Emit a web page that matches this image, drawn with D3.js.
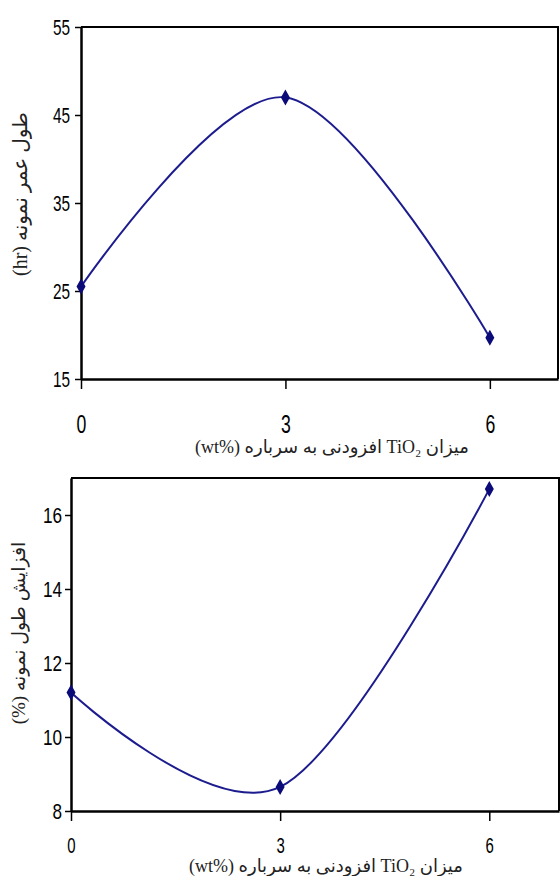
<!DOCTYPE html>
<html>
<head>
<meta charset="utf-8">
<script src="https://cdn.jsdelivr.net/npm/d3@7"></script>
<style>
  body { margin: 0; background: #fff; }
  svg { display: block; }
  .tick text { font-family: "Liberation Sans", Arial, sans-serif; fill: #000; }
  .title { font-family: "Liberation Serif", "DejaVu Sans", serif; fill: #222; }
</style>
</head>
<body>
<div id="chart"></div>
<script>
// x values (wt% TiO2)
const xValues = [0, 3, 6];
// top chart: sample life (hr)
const lifeHours = [25.5, 47, 19.7];
// bottom chart: length increase (%)
const lengthIncrease = [11.2, 8.65, 16.7];

const xTicks = [0, 3, 6];
const lifeTicks = [15, 25, 35, 45, 55];
const incTicks = [8, 10, 12, 14, 16];

// LRM marks keep "(wt%)" in the right order inside the RTL title
const xTitle = "میزان TiO₂ افزودنی به سرباره \u200E(wt%)\u200E";
const lifeTitle = "طول عمر نمونه \u200E(hr)\u200E";
const incTitle = "افزایش طول نمونه \u200E(%)\u200E";

const width = 560, height = 876;
const lineColor = "#1c1c8e";
const markColor = "#0a0a78";

const svg = d3.select("#chart")
  .append("svg")
  .attr("width", width)
  .attr("height", height);

function drawPanel(opt) {
  const g = svg.append("g");
  const xScale = d3.scaleLinear().domain([0, 7]).range([opt.left, opt.right]);
  const yScale = d3.scaleLinear().domain(opt.yDomain).range([opt.bottom, opt.top]);

  // frame (top and right)
  g.append("path")
    .attr("d", `M${opt.left},${opt.top}H${opt.right}V${opt.bottom}`)
    .attr("fill", "none")
    .attr("stroke", "#000")
    .attr("stroke-width", 2);

  // y axis
  const yAxis = g.append("g")
    .attr("transform", `translate(${opt.left},0)`)
    .call(d3.axisLeft(yScale).tickValues(opt.yTicks).tickFormat(d3.format("d")).tickSize(6).tickSizeOuter(0));
  yAxis.select(".domain").attr("stroke-width", 2.5);
  yAxis.selectAll(".tick line").attr("stroke-width", 1.5);
  yAxis.selectAll(".tick text")
    .attr("x", null).attr("dy", null)
    .attr("font-size", opt.yFont)
    .attr("text-anchor", "end")
    .attr("dominant-baseline", "central")
    .attr("transform", `translate(${opt.yLabelDx},0) scale(${opt.yScaleX},1)`);

  // x axis
  const xAxis = g.append("g")
    .attr("transform", `translate(0,${opt.bottom})`)
    .call(d3.axisBottom(xScale).tickValues(xTicks).tickFormat(d3.format("d")).tickSize(10).tickSizeOuter(0));
  xAxis.select(".domain").attr("stroke-width", 2.5);
  xAxis.selectAll(".tick line").attr("stroke-width", 1.5);
  xAxis.selectAll(".tick text")
    .attr("y", null).attr("dy", null)
    .attr("font-size", opt.xFont)
    .attr("text-anchor", "middle")
    .attr("transform", `translate(0,${opt.xLabelDy}) scale(0.68,1)`);

  // smoothed line
  const pts = xValues.map((x, i) => [x, opt.values[i]]);
  const line = d3.line()
    .x(d => xScale(d[0]))
    .y(d => yScale(d[1]))
    .curve(d3.curveCatmullRom.alpha(0));
  g.append("path")
    .datum(pts)
    .attr("d", line)
    .attr("fill", "none")
    .attr("stroke", lineColor)
    .attr("stroke-width", 2);

  // diamond markers
  g.selectAll(".mark")
    .data(pts)
    .join("path")
    .attr("class", "mark")
    .attr("transform", d => `translate(${xScale(d[0])},${yScale(d[1])})`)
    .attr("d", "M0,-8L4.5,0L0,8L-4.5,0Z")
    .attr("fill", markColor);

  // axis titles
  g.append("text")
    .attr("class", "title")
    .attr("direction", "rtl")
    .attr("text-anchor", "middle")
    .attr("x", opt.xTitleX)
    .attr("y", opt.xTitleY)
    .attr("font-size", 18)
    .text(xTitle);

  g.append("text")
    .attr("class", "title")
    .attr("direction", "rtl")
    .attr("text-anchor", "middle")
    .attr("transform", `translate(${opt.yTitleX},${opt.yTitleY}) rotate(-90)`)
    .attr("font-size", opt.yTitleFont)
    .text(opt.yTitle);
}

drawPanel({
  left: 81, right: 558, top: 27, bottom: 379,
  yDomain: [15, 55], yTicks: lifeTicks, values: lifeHours,
  yFont: 22, yScaleX: 0.7, yLabelDx: -11,
  xFont: 26, xLabelDy: 54,
  xTitleX: 332, xTitleY: 453,
  yTitleX: 27, yTitleY: 194, yTitle: lifeTitle, yTitleFont: 20
});

drawPanel({
  left: 71, right: 559, top: 478, bottom: 811,
  yDomain: [8, 17], yTicks: incTicks, values: lengthIncrease,
  yFont: 22, yScaleX: 0.78, yLabelDx: -9,
  xFont: 22, xLabelDy: 42,
  xTitleX: 326, xTitleY: 872,
  yTitleX: 25, yTitleY: 633, yTitle: incTitle, yTitleFont: 19
});
</script>
</body>
</html>
